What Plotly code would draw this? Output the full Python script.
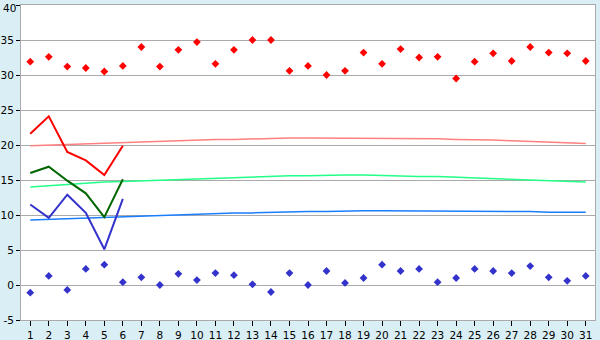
import plotly.graph_objects as go

days = list(range(1, 32))

max_temp = [31.9, 32.6, 31.2, 31.0, 30.5, 31.3, 34.0, 31.2, 33.6, 34.7,
            31.6, 33.6, 35.0, 35.0, 30.6, 31.3, 30.0, 30.6, 33.2, 31.6,
            33.7, 32.5, 32.6, 29.5, 31.9, 33.1, 32.0, 34.0, 33.2, 33.1, 32.0]
min_temp = [-1.1, 1.3, -0.7, 2.3, 2.9, 0.4, 1.1, 0.0, 1.6, 0.7,
            1.7, 1.4, 0.1, -1.0, 1.7, 0.0, 2.0, 0.3, 1.0, 2.9,
            2.0, 2.3, 0.4, 1.0, 2.3, 2.0, 1.7, 2.7, 1.1, 0.6, 1.3]

obs_days = [1, 2, 3, 4, 5, 6]
obs_max = [21.6, 24.1, 19.0, 17.8, 15.7, 19.9]
obs_mean = [16.0, 16.9, 14.9, 13.1, 9.7, 15.1]
obs_min = [11.5, 9.6, 12.9, 10.3, 5.1, 12.3]

norm_max = [19.9, 20.0, 20.1, 20.2, 20.3, 20.4, 20.5, 20.6, 20.7, 20.7,
            20.8, 20.8, 20.9, 20.9, 21.0, 21.0, 21.0, 21.0, 21.0, 21.0,
            21.0, 20.9, 20.9, 20.8, 20.8, 20.7, 20.6, 20.5, 20.4, 20.3, 20.2]
norm_mean = [14.0, 14.2, 14.4, 14.6, 14.7, 14.8, 14.9, 15.0, 15.1, 15.2,
             15.3, 15.4, 15.5, 15.5, 15.6, 15.6, 15.7, 15.7, 15.7, 15.6,
             15.6, 15.5, 15.5, 15.4, 15.3, 15.3, 15.1, 15.0, 15.0, 14.9, 14.7]
norm_min = [9.3, 9.4, 9.5, 9.6, 9.7, 9.8, 9.9, 10.0, 10.0, 10.1,
            10.2, 10.3, 10.3, 10.4, 10.4, 10.5, 10.5, 10.6, 10.6, 10.6,
            10.6, 10.6, 10.6, 10.6, 10.6, 10.6, 10.6, 10.5, 10.4, 10.4, 10.4]

y_ticks = [-5, 0, 5, 10, 15, 20, 25, 30, 35, 40]
y_ticktext = ["-5", "0", "5", "10", "15", "20", "25", "30", "35", ""]
top_label = "40"

fig = go.Figure()
fig.add_trace(go.Scatter(x=days, y=norm_max, mode="lines",
                         line=dict(color="#ff8080", width=1.5)))
fig.add_trace(go.Scatter(x=days, y=norm_mean, mode="lines",
                         line=dict(color="#22ff88", width=1.5)))
fig.add_trace(go.Scatter(x=days, y=norm_min, mode="lines",
                         line=dict(color="#1a7fff", width=1.5)))
fig.add_trace(go.Scatter(x=obs_days, y=obs_max, mode="lines",
                         line=dict(color="#ff0000", width=2)))
fig.add_trace(go.Scatter(x=obs_days, y=obs_mean, mode="lines",
                         line=dict(color="#006600", width=2)))
fig.add_trace(go.Scatter(x=obs_days, y=obs_min, mode="lines",
                         line=dict(color="#3333cc", width=2)))
fig.add_trace(go.Scatter(x=days, y=max_temp, mode="markers",
                         marker=dict(color="#ff0000", symbol="diamond", size=6)))
fig.add_trace(go.Scatter(x=days, y=min_temp, mode="markers",
                         marker=dict(color="#3333cc", symbol="diamond", size=6)))

fig.add_annotation(x=0, xref="paper", y=y_ticks[-1], yref="y",
                   text=top_label, showarrow=False, xanchor="right",
                   yanchor="top", xshift=-4, yshift=4,
                   font=dict(size=10.5, family="DejaVu Sans", color="#000000"),
                   borderpad=0)

fig.update_layout(
    width=600, height=340,
    margin=dict(l=21, r=5, t=5, b=20, autoexpand=False),
    paper_bgcolor="#d9eff5",
    plot_bgcolor="#ffffff",
    showlegend=False,
    font=dict(family="DejaVu Sans", size=10, color="#000000"),
)
fig.update_xaxes(
    range=[0.5, 31.5], tickmode="array", tickvals=days,
    ticktext=[str(d) for d in days],
    showgrid=False, zeroline=False, automargin=False,
    showline=True, linecolor="#aaaaaa", linewidth=1, mirror=True,
    ticks="outside", ticklen=5, tickcolor="#000000", tickwidth=1,
    tickfont=dict(size=10.5), ticklabelstandoff=0,
)
fig.update_yaxes(
    range=[-5, 40], tickmode="array", tickvals=y_ticks, ticktext=y_ticktext,
    showgrid=True, gridcolor="#aaaaaa", gridwidth=1, zeroline=False,
    automargin=False,
    showline=True, linecolor="#aaaaaa", linewidth=1, mirror=True,
    ticks="outside", ticklen=4, tickcolor="#000000", tickwidth=1,
    tickfont=dict(size=10.5), ticklabelstandoff=0,
)

fig.write_html("out.html")
